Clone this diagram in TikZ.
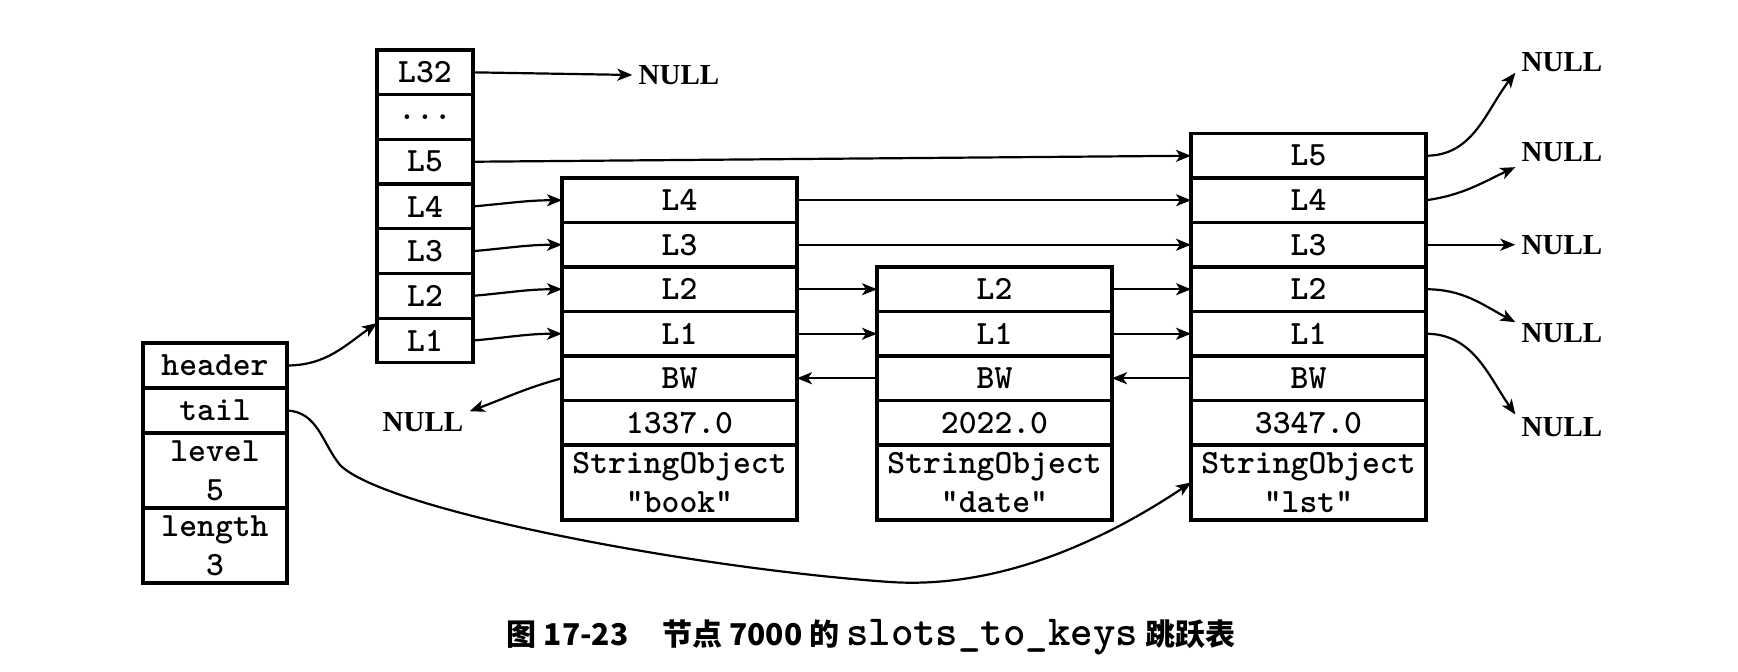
\documentclass[tikz,border=0pt]{standalone}
\usepackage{fontspec}
\usetikzlibrary{arrows.meta}
\newfontfamily\serifnt{Liberation Serif}
\newfontfamily\cjkfnt{Noto Sans CJK SC}
\newcommand\boxfnt{\ttfamily\bfseries\fontsize{17pt}{19.5pt}\selectfont}
\newcommand\nulfnt{\serifnt\bfseries\fontsize{14.5pt}{17pt}\selectfont}
\newcommand\capfnt{\cjkfnt\bfseries\fontsize{15pt}{18pt}\selectfont}
\newcommand\capmono{\ttfamily\bfseries\fontsize{21.4pt}{22pt}\selectfont}
\tikzset{
  cell/.style={draw, line width=1.6pt, inner sep=0pt, outer sep=0pt, font=\boxfnt,
    align=center, minimum width=117.5pt, minimum height=22.25pt},
  lev/.style={cell, minimum width=48pt, minimum height=22.35pt},
  hdr/.style={cell, minimum width=72pt, minimum height=22.5pt},
  tall/.style={minimum height=37.5pt},
  nul/.style={font=\nulfnt, inner sep=3pt},
  conn/.style={line width=1.1pt, -{Stealth[length=7.5pt,width=6pt,inset=2pt]}},
}
\begin{document}
\begin{tikzpicture}[x=0.5pt,y=-0.5pt]
\useasboundingbox (0,0) rectangle (1738,672);

% header column
\node[hdr] (hH) at (215,365.5) {header};
\node[hdr] (hT) at (215,410.5) {tail};
\node[hdr,tall] (hLv) at (215,470.5) {level\\5};
\node[hdr,tall] (hLn) at (215,545.5) {length\\3};

% level column
\node[lev] (c32) at (425,72.35) {L32};
\node[lev] (cdd) at (425,117.05) {...};
\node[lev] (c5) at (425,161.75) {L5};
\node[lev] (c4) at (425,206.45) {L4};
\node[lev] (c3) at (425,251.15) {L3};
\node[lev] (c2) at (425,295.85) {L2};
\node[lev] (c1) at (425,340.55) {L1};

% book
\node[cell] (b4) at (679.5,200.25) {L4};
\node[cell] (b3) at (679.5,244.75) {L3};
\node[cell] (b2) at (679.5,289.25) {L2};
\node[cell] (b1) at (679.5,333.75) {L1};
\node[cell] (bBW) at (679.5,378.25) {BW};
\node[cell] (bV) at (679.5,422.75) {1337.0};
\node[cell,tall] (bSO) at (679.5,482.5) {StringObject\\"book"};

% date
\node[cell] (d2) at (994.5,289.25) {L2};
\node[cell] (d1) at (994.5,333.75) {L1};
\node[cell] (dBW) at (994.5,378.25) {BW};
\node[cell] (dV) at (994.5,422.75) {2022.0};
\node[cell,tall] (dSO) at (994.5,482.5) {StringObject\\"date"};

% lst
\node[cell] (l5) at (1308.5,155.75) {L5};
\node[cell] (l4) at (1308.5,200.25) {L4};
\node[cell] (l3) at (1308.5,244.75) {L3};
\node[cell] (l2) at (1308.5,289.25) {L2};
\node[cell] (l1) at (1308.5,333.75) {L1};
\node[cell] (lBW) at (1308.5,378.25) {BW};
\node[cell] (lV) at (1308.5,422.75) {3347.0};
\node[cell,tall] (lSO) at (1308.5,482.5) {StringObject\\"lst"};

% NULLs
\node[nul] (nT) at (679,75) {NULL};
\node[nul] (nL) at (423,422) {NULL};
\node[nul] (n1) at (1562,62) {NULL};
\node[nul] (n2) at (1562,152) {NULL};
\node[nul] (n3) at (1562,244.75) {NULL};
\node[nul] (n4) at (1562,333) {NULL};
\node[nul] (n5) at (1562,427) {NULL};

% connectors from level column
\draw[conn] (c32.east) -- (nT.west);
\draw[conn] (c5.east) -- (l5.west);
\draw[conn] (c4.east) to[out=5,in=180] (b4.west);
\draw[conn] (c3.east) to[out=5,in=180] (b3.west);
\draw[conn] (c2.east) to[out=5,in=180] (b2.west);
\draw[conn] (c1.east) to[out=5,in=180] (b1.west);

% header / tail
\draw[conn] (hH.east) to[out=0,in=215] (c1.160);
\draw[conn] (hT.east) .. controls (318,412) and (322,443) .. (340,465)
  .. controls (385,510) and (690,568) .. (890,582)
  .. controls (1010,590) and (1120,530) .. (lSO.west);

% book links
\draw[conn] (b4.east) -- (l4.west);
\draw[conn] (b3.east) -- (l3.west);
\draw[conn] (b2.east) -- (d2.west);
\draw[conn] (b1.east) -- (d1.west);
\draw[conn] (bBW.west) to[out=195,in=20] (nL.13);

% date links
\draw[conn] (d2.east) -- (l2.west);
\draw[conn] (d1.east) -- (l1.west);
\draw[conn] (dBW.west) -- (bBW.east);

% lst links
\draw[conn] (lBW.west) -- (dBW.east);
\draw[conn] (l5.east) to[out=0,in=232] (n1.193);
\draw[conn] (l4.east) to[out=8,in=205] (n2.198);
\draw[conn] (l3.east) -- (n3.west);
\draw[conn] (l2.east) to[out=0,in=152] (n4.167);
\draw[conn] (l1.east) to[out=0,in=125] (n5.165);

% caption
\node[font=\capfnt, inner sep=0pt] (cap) at (871,637)
  {图 17-23\hspace{17pt}节点 7000 的 {\capmono slots\_to\_keys} 跳跃表};
\end{tikzpicture}
\end{document}
